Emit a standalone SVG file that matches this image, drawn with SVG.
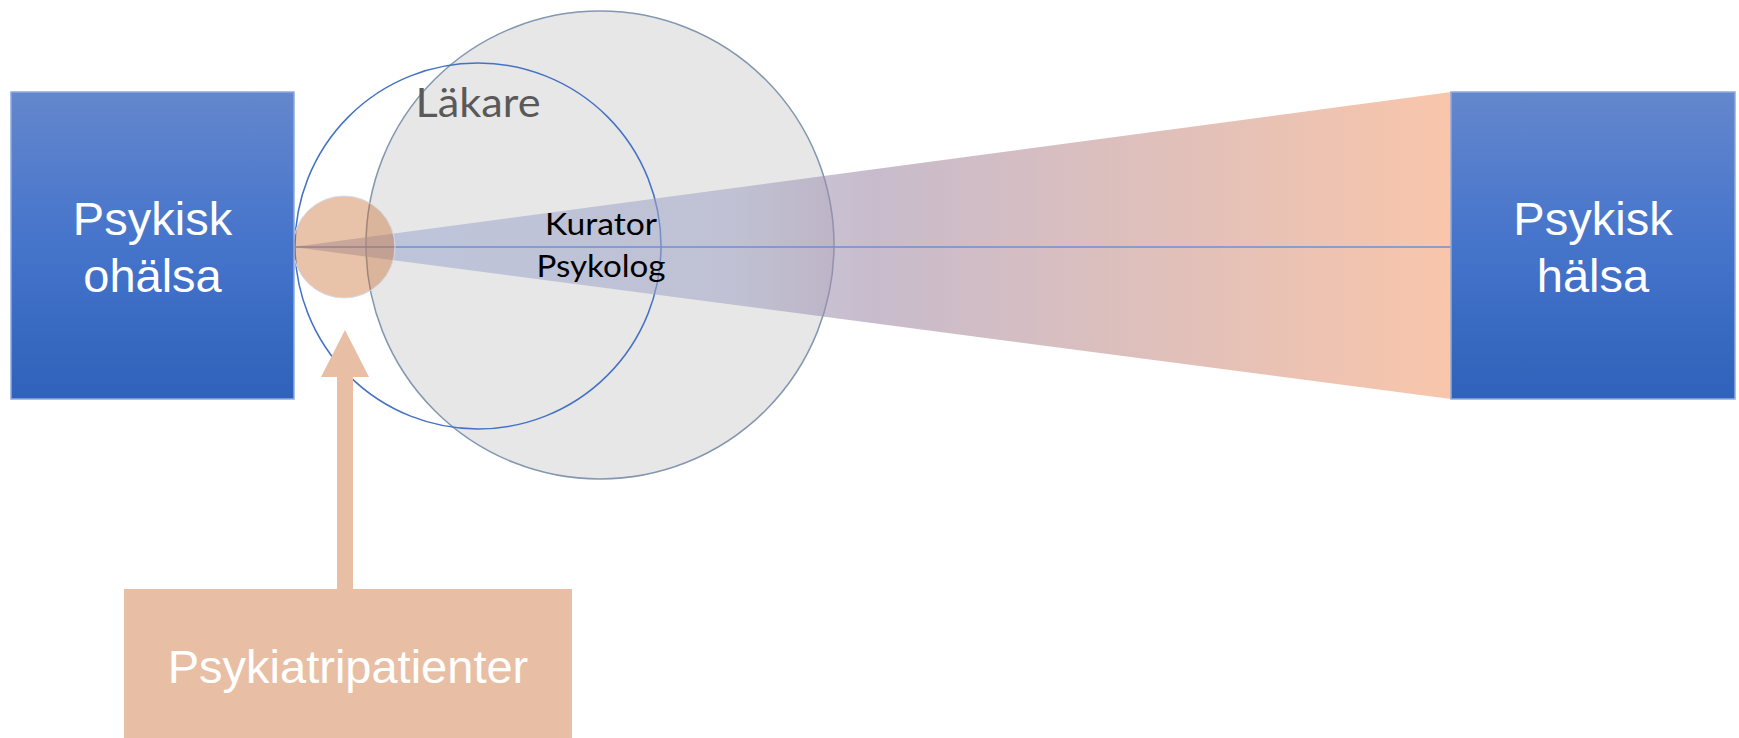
<svg xmlns="http://www.w3.org/2000/svg" width="1739" height="738" viewBox="0 0 1739 738">
<style>
.boxtxt{font-family:"Liberation Sans",Arial,sans-serif;font-size:47px;fill:#ffffff;text-anchor:middle}
.lbl{font-family:Lato,"Liberation Sans",sans-serif;text-anchor:middle}
</style>
<defs>
<linearGradient id="blueBox" x1="0" y1="0" x2="0" y2="1">
<stop offset="0" stop-color="#6487cd"/>
<stop offset="0.5" stop-color="#4574cb"/>
<stop offset="1" stop-color="#2f62ba"/>
</linearGradient>
<linearGradient id="wedgeGrad" gradientUnits="userSpaceOnUse" x1="293" y1="0" x2="1451" y2="0">
<stop offset="0" stop-color="#9aaad2"/>
<stop offset="0.38" stop-color="#a0a2c4"/>
<stop offset="0.5" stop-color="#9a84a2"/>
<stop offset="0.784" stop-color="#cc8d7e"/>
<stop offset="1" stop-color="#f49766"/>
</linearGradient>
</defs>
<g id="circle-lakare">
<circle cx="600" cy="245" r="234" fill="#e7e7e7" stroke="#8497b0" stroke-width="1.5"/>
</g>
<g id="circle-blue">
<circle cx="478" cy="246" r="183" fill="none" stroke="#4472c4" stroke-width="1.5"/>
</g>
<g id="wedge">
<polygon points="293,247 1451,92 1451,399" fill="url(#wedgeGrad)" fill-opacity="0.55"/>
</g>
<g id="connectors">
<line x1="293" y1="247" x2="1451" y2="247" stroke="#6f8fcf" stroke-width="1.5"/>
<polygon points="345,330 369,377 353,377 353,589 337,589 337,377 321,377" fill="#e8bfa5"/>
</g>
<g id="orange-circle">
<circle cx="344" cy="247" r="51" fill="rgb(200,110,50)" fill-opacity="0.42" stroke="#d3dbeb" stroke-width="1"/>
</g>
<g id="labels">
<text class="lbl" x="478" y="117" font-size="40" fill="#595959" textLength="125" lengthAdjust="spacingAndGlyphs">Läkare</text>
<text class="lbl" x="601" y="235" font-size="31" fill="#000000" textLength="112" lengthAdjust="spacingAndGlyphs">Kurator</text>
<text class="lbl" x="601" y="277" font-size="31" fill="#000000" textLength="129" lengthAdjust="spacingAndGlyphs">Psykolog</text>
</g>
<g id="node-ohalsa">
<rect x="11" y="92" width="283" height="307" fill="url(#blueBox)" stroke="#8eaadb" stroke-width="1.5"/>
<text class="boxtxt" x="152.5" y="235">Psykisk</text>
<text class="boxtxt" x="152.5" y="292">ohälsa</text>
</g>
<g id="node-halsa">
<rect x="1451" y="92" width="284" height="307" fill="url(#blueBox)" stroke="#8eaadb" stroke-width="1.5"/>
<text class="boxtxt" x="1593" y="235">Psykisk</text>
<text class="boxtxt" x="1593" y="292">hälsa</text>
</g>
<g id="node-psykiatri">
<rect x="124" y="589" width="448" height="152" fill="#e8bfa5"/>
<text class="boxtxt" x="348" y="683" fill="#fdf6f1">Psykiatripatienter</text>
</g>
</svg>
